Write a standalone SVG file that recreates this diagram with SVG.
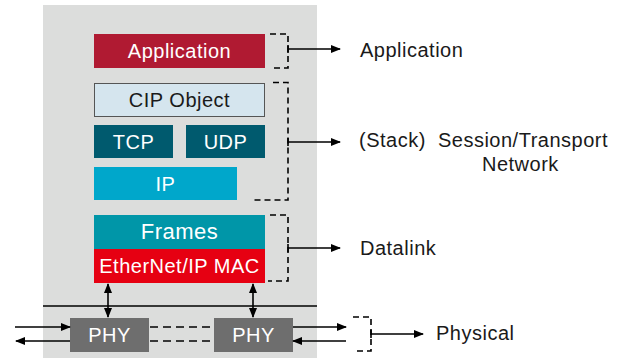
<svg xmlns="http://www.w3.org/2000/svg" width="621" height="358" viewBox="0 0 621 358">
<style>
.t{font-family:"Liberation Sans",Arial,sans-serif;font-size:20px;letter-spacing:0.5px}
.w{fill:#ffffff;text-anchor:middle}
.k{fill:#1a1a1a}
.ln{stroke:#000;stroke-width:1.6;fill:none}
.br{stroke:#000;stroke-width:1.6;fill:none;stroke-dasharray:6 4}
.ds{stroke:#000;stroke-width:1.6;fill:none;stroke-dasharray:8 5}
</style>
<defs>
<marker id="ah" markerWidth="10" markerHeight="8" refX="9" refY="4" orient="auto" markerUnits="userSpaceOnUse">
<path d="M0,0 L10,4 L0,8 Z" fill="#000"/>
</marker>
<marker id="as" markerWidth="10" markerHeight="8" refX="1" refY="4" orient="auto" markerUnits="userSpaceOnUse">
<path d="M10,0 L0,4 L10,8 Z" fill="#000"/>
</marker>
</defs>
<rect x="43" y="5" width="274" height="353" fill="#dcdddc"/>
<g id="application"><rect x="94" y="34" width="171" height="34" fill="#b01a32"/><text class="t w" x="179.5" y="58">Application</text></g>
<g id="cip"><rect x="94.5" y="83.5" width="170" height="33" fill="#d5e5ee" stroke="#555" stroke-width="1"/><text class="t k" x="179.5" y="107" text-anchor="middle">CIP Object</text></g>
<g id="tcp"><rect x="94" y="125" width="79" height="33" fill="#005a6e"/><text class="t w" x="133.5" y="149">TCP</text></g>
<g id="udp"><rect x="186" y="125" width="79" height="33" fill="#005a6e"/><text class="t w" x="225.5" y="149">UDP</text></g>
<g id="ip"><rect x="94" y="167" width="143" height="33" fill="#00a7cb"/><text class="t w" x="165.5" y="191">IP</text></g>
<g id="frames"><rect x="94" y="215" width="171" height="34" fill="#0096a8"/><text class="t w" x="179.5" y="239" style="font-size:22px">Frames</text></g>
<g id="mac"><rect x="94" y="249" width="171" height="34" fill="#e60012"/><text class="t w" x="179.5" y="273">EtherNet/IP MAC</text></g>
<g id="phy1"><rect x="70" y="318" width="79" height="34" fill="#6e6e6e"/><text class="t w" x="109.5" y="342">PHY</text></g>
<g id="phy2"><rect x="214" y="318" width="79" height="34" fill="#6e6e6e"/><text class="t w" x="253.5" y="342">PHY</text></g>
<g id="labels">
<text class="t k" x="360" y="57">Application</text>
<text class="t k" x="359" y="147" xml:space="preserve">(Stack)  Session/Transport</text>
<text class="t k" x="482" y="171">Network</text>
<text class="t k" x="360" y="255">Datalink</text>
<text class="t k" x="436" y="340">Physical</text>
</g>
<g id="connectors">
<path class="br" d="M270,34 H288 V68 H270"/>
<path class="br" d="M273,82.5 H288 V200 H252"/>
<path class="br" d="M270,215 H288 V281 H268"/>
<path class="br" d="M353,317 H371 V351 H353"/>
<path class="ln" d="M288,45 V53 M288,49 H340" marker-end="url(#ah)"/>
<path class="ln" d="M288,138 V146 M288,142 H340" marker-end="url(#ah)"/>
<path class="ln" d="M288,244 V252 M288,248 H340" marker-end="url(#ah)"/>
<path class="ln" d="M371,330 V338 M371,334 H423" marker-end="url(#ah)"/>
<line class="ln" x1="43" y1="306" x2="317" y2="306"/>
<line class="ln" x1="108" y1="284" x2="108" y2="317" marker-start="url(#as)" marker-end="url(#ah)"/>
<line class="ln" x1="253" y1="284" x2="253" y2="317" marker-start="url(#as)" marker-end="url(#ah)"/>
<line class="ln" x1="15" y1="327" x2="70" y2="327" marker-end="url(#ah)"/>
<line class="ln" x1="70" y1="341" x2="16" y2="341" marker-end="url(#ah)"/>
<line class="ln" x1="293" y1="327" x2="346" y2="327" marker-end="url(#ah)"/>
<line class="ln" x1="346" y1="341" x2="293" y2="341" marker-end="url(#ah)"/>
<line class="ds" x1="150" y1="327" x2="214" y2="327"/>
<line class="ds" x1="150" y1="341" x2="214" y2="341"/>
</g>
</svg>
